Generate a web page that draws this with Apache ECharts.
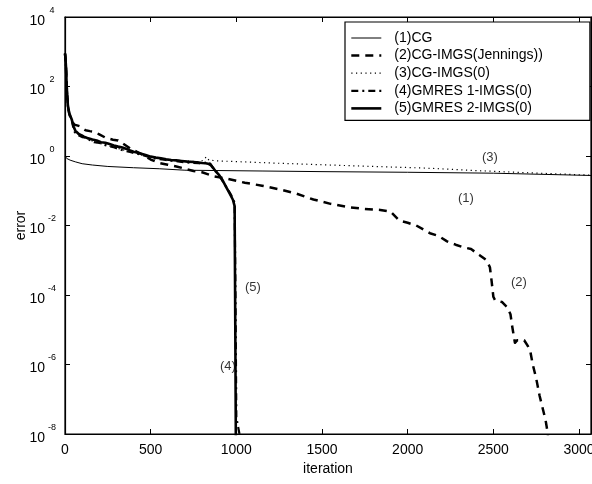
<!DOCTYPE html>
<html>
<head>
<meta charset="utf-8">
<script src="https://cdn.jsdelivr.net/npm/echarts@6/dist/echarts.min.js"></script>
<style>html,body{margin:0;padding:0;background:#fff}#c{width:592px;height:484px}</style>
</head>
<body>
<div id="c"></div>
<script>
var seriesNames = ['(1)CG', '(2)CG-IMGS(Jennings))', '(3)CG-IMGS(0)', '(4)GMRES 1-IMGS(0)', '(5)GMRES 2-IMGS(0)'];

var cgIter = [0, 10, 30, 60, 100, 160, 250, 400, 550, 700, 1150, 1500, 2000, 2500, 3070];
var cgErr = [1.0, 0.85, 0.76, 0.68, 0.60, 0.55, 0.50, 0.46, 0.43, 0.39, 0.37, 0.355, 0.34, 0.32, 0.275];

var jenIter = [0, 3, 6, 10, 17, 25, 40, 55, 70, 85, 100, 120, 145, 170, 200, 240, 280, 310, 340, 380, 420, 460, 500, 550, 600, 650, 700, 750, 800, 870, 950, 1050, 1150, 1250, 1350, 1450, 1550, 1650, 1750, 1840, 1900, 1950, 2000, 2050, 2130, 2180, 2230, 2280, 2320, 2370, 2420, 2460, 2480, 2490, 2500, 2510, 2550, 2580, 2600, 2610, 2620, 2626, 2640, 2680, 2700, 2715, 2730, 2750, 2770, 2790, 2805, 2815, 2825];
var jenErr = [890, 630, 355, 100, 28, 16, 10, 7.9, 7.6, 7.2, 6.3, 5.5, 5.2, 5.0, 4.2, 3.3, 2.95, 2.8, 2.24, 1.66, 1.32, 1.05, 0.79, 0.63, 0.56, 0.5, 0.43, 0.37, 0.34, 0.26, 0.22, 0.17, 0.14, 0.11, 0.083, 0.056, 0.042, 0.034, 0.030, 0.028, 0.025, 0.014, 0.012, 0.01, 6.0e-3, 5.0e-3, 3.5e-3, 2.8e-3, 2.4e-3, 2.1e-3, 1.4e-3, 1.0e-3, 6.3e-4, 2.5e-4, 8.9e-5, 7.1e-5, 6.3e-5, 4.5e-5, 2.8e-5, 1.26e-5, 6.3e-6, 4.2e-6, 5.0e-6, 5.0e-6, 3.5e-6, 2.5e-6, 1e-6, 4.0e-7, 1.26e-7, 5.0e-8, 2.5e-8, 1.26e-8, 5e-9];

var imgsIter = [0, 3, 6, 10, 17, 25, 40, 50, 60, 75, 90, 110, 135, 160, 190, 220, 250, 280, 310, 340, 370, 400, 440, 480, 520, 560, 600, 650, 700, 750, 790, 810, 825, 840, 900, 1000, 1200, 1500, 1800, 2100, 2400, 2700, 3070];
var imgsErr = [900, 640, 340, 98, 27, 16.5, 10.8, 6.5, 4.8, 4.1, 3.9, 3.4, 3.1, 2.7, 2.4, 2.2, 2.0, 1.8, 1.65, 1.5, 1.35, 1.25, 1.12, 1.0, 0.92, 0.86, 0.8, 0.76, 0.73, 0.7, 0.68, 0.78, 0.95, 0.76, 0.72, 0.69, 0.63, 0.56, 0.50, 0.45, 0.38, 0.33, 0.28];

var gm1Iter = [0, 3, 6, 10, 17, 25, 40, 50, 60, 70, 85, 100, 120, 145, 170, 200, 230, 260, 290, 320, 350, 380, 410, 440, 470, 500, 540, 580, 620, 660, 700, 740, 780, 810, 830, 850, 870, 895, 920, 945, 970, 990, 995, 1000, 1030];
var gm1Err = [900, 600, 330, 95, 27, 16, 10.5, 6.0, 4.5, 4.2, 3.8, 3.5, 3.4, 2.9, 2.5, 2.4, 2.1, 1.9, 1.75, 1.55, 1.4, 1.3, 1.2, 1.1, 1.0, 0.9, 0.82, 0.78, 0.73, 0.7, 0.66, 0.64, 0.62, 0.6, 0.7, 0.58, 0.42, 0.3, 0.19, 0.12, 0.075, 0.045, 1e-4, 3e-8, 5e-9];

var gm2Iter = [0, 3, 6, 10, 17, 25, 40, 50, 60, 70, 80, 95, 110, 130, 160, 185, 210, 235, 260, 285, 310, 335, 360, 380, 400, 425, 450, 475, 500, 530, 560, 590, 620, 650, 680, 715, 750, 780, 800, 820, 835, 850, 865, 880, 900, 920, 940, 960, 980, 990, 994, 998];
var gm2Err = [890, 630, 350, 100, 28, 17, 11, 7.1, 5.4, 4.9, 4.3, 4.0, 3.6, 3.3, 3.0, 2.8, 2.5, 2.4, 2.2, 2.0, 1.86, 1.75, 1.6, 1.45, 1.33, 1.25, 1.15, 1.05, 0.96, 0.9, 0.86, 0.8, 0.77, 0.75, 0.72, 0.69, 0.67, 0.65, 0.63, 0.62, 0.6, 0.55, 0.45, 0.36, 0.28, 0.2, 0.13, 0.085, 0.055, 0.036, 1e-5, 1e-9];

var noteText = ['(1)', '(2)', '(3)', '(4)', '(5)'];
var noteIter = [2340, 2649, 2480, 951, 1097];
var noteErr = [0.062, 2.3e-4, 0.93, 9.1e-7, 1.6e-4];

var xTicks = [0, 500, 1000, 1500, 2000, 2500, 3000];

function pairs(xs, ys) { return xs.map(function (x, i) { return [x, ys[i]]; }); }

var FONT = '"Liberation Sans", Arial, sans-serif';
var chart = echarts.init(document.getElementById('c'), null, { renderer: 'canvas' });

var widths = [1, 2.5, 1.2, 2.2, 2.6];
var dashes = ['solid', [8, 6], [1.2, 3.5], [7, 4, 2, 4], 'solid'];

function lineSeries(i, xs, ys) {
  return {
    name: seriesNames[i], type: 'line', data: pairs(xs, ys), symbol: 'none', showSymbol: false,
    clip: true, animation: false,
    lineStyle: { color: '#000', width: widths[i], type: dashes[i], cap: 'butt', join: 'round' },
    itemStyle: { color: '#000' },
    emphasis: { disabled: true }
  };
}

var xBase = {
  type: 'value', min: 0, max: 3070, interval: 500,
  splitLine: { show: false },
  axisLine: { show: true, onZero: false, lineStyle: { color: '#000', width: 1.2 } },
  axisTick: { show: true, inside: true, length: 5, lineStyle: { color: '#000' } }
};
var yBase = {
  type: 'log', logBase: 10, min: 1e-8, max: 1e4, interval: 2,
  splitLine: { show: false },
  axisLine: { show: true, onZero: false, lineStyle: { color: '#000', width: 1.2 } },
  axisTick: { show: true, inside: true, length: 5, lineStyle: { color: '#000' } },
  minorTick: { show: false }
};

var option = {
  animation: false,
  backgroundColor: '#fff',
  grid: {
    left: 65, top: 17, right: 1, bottom: 50, containLabel: false, outerBoundsMode: 'none',
    show: true, borderColor: '#000', borderWidth: 1.2, backgroundColor: 'transparent'
  },
  legend: {
    data: seriesNames.map(function (n, i) {
      return { name: n, lineStyle: { width: widths[i], type: dashes[i], color: '#000' } };
    }),
    left: 345, top: 22,
    orient: 'vertical',
    backgroundColor: '#fff', borderColor: '#000', borderWidth: 1.2,
    padding: [9, 47, 5, 5],
    itemWidth: 30, itemHeight: 14, itemGap: 3.6,
    itemStyle: { opacity: 0 },
    textStyle: { fontFamily: FONT, fontSize: 14, color: '#000', padding: [0, 0, 0, 8] },
    selectedMode: false
  },
  xAxis: [
    Object.assign({}, xBase, {
      position: 'bottom',
      name: 'iteration', nameLocation: 'middle', nameGap: 27,
      nameTextStyle: { fontFamily: FONT, fontSize: 14, color: '#000' },
      axisLabel: {
        fontFamily: FONT, fontSize: 14, color: '#000', margin: 9,
        formatter: function (v) { return xTicks.indexOf(v) >= 0 ? String(v) : ''; }
      }
    }),
    Object.assign({}, xBase, { position: 'top', axisLabel: { show: false } })
  ],
  yAxis: [
    Object.assign({}, yBase, {
      position: 'left',
      name: 'error', nameLocation: 'middle', nameGap: 37, nameMoveOverlap: false,
      nameTextStyle: { fontFamily: FONT, fontSize: 14, color: '#000' },
      axisLabel: {
        margin: 8, color: '#000',
        formatter: function (v) {
          var e = Math.round(Math.log(v) / Math.LN10);
          return '{b|10}{e|' + e + '}';
        },
        rich: {
          b: { fontFamily: FONT, fontSize: 14, color: '#000', lineHeight: 22, verticalAlign: 'bottom' },
          e: { fontFamily: FONT, fontSize: 9, color: '#000', lineHeight: 4, verticalAlign: 'top', width: 10, align: 'left', padding: [0, 0, 0, 2] }
        }
      }
    }),
    Object.assign({}, yBase, { position: 'right', axisLabel: { show: false } })
  ],
  series: [
    lineSeries(0, cgIter, cgErr),
    lineSeries(1, jenIter, jenErr),
    lineSeries(2, imgsIter, imgsErr),
    lineSeries(3, gm1Iter, gm1Err),
    lineSeries(4, gm2Iter, gm2Err),
    {
      name: 'notes', type: 'scatter', symbolSize: 0, silent: true,
      data: noteText.map(function (t, i) { return { name: t, value: [noteIter[i], noteErr[i]] }; }),
      label: { show: true, position: 'inside', formatter: '{b}', fontFamily: FONT, fontSize: 13, color: '#000' }
    }
  ]
};
chart.setOption(option);
</script>
</body>
</html>
